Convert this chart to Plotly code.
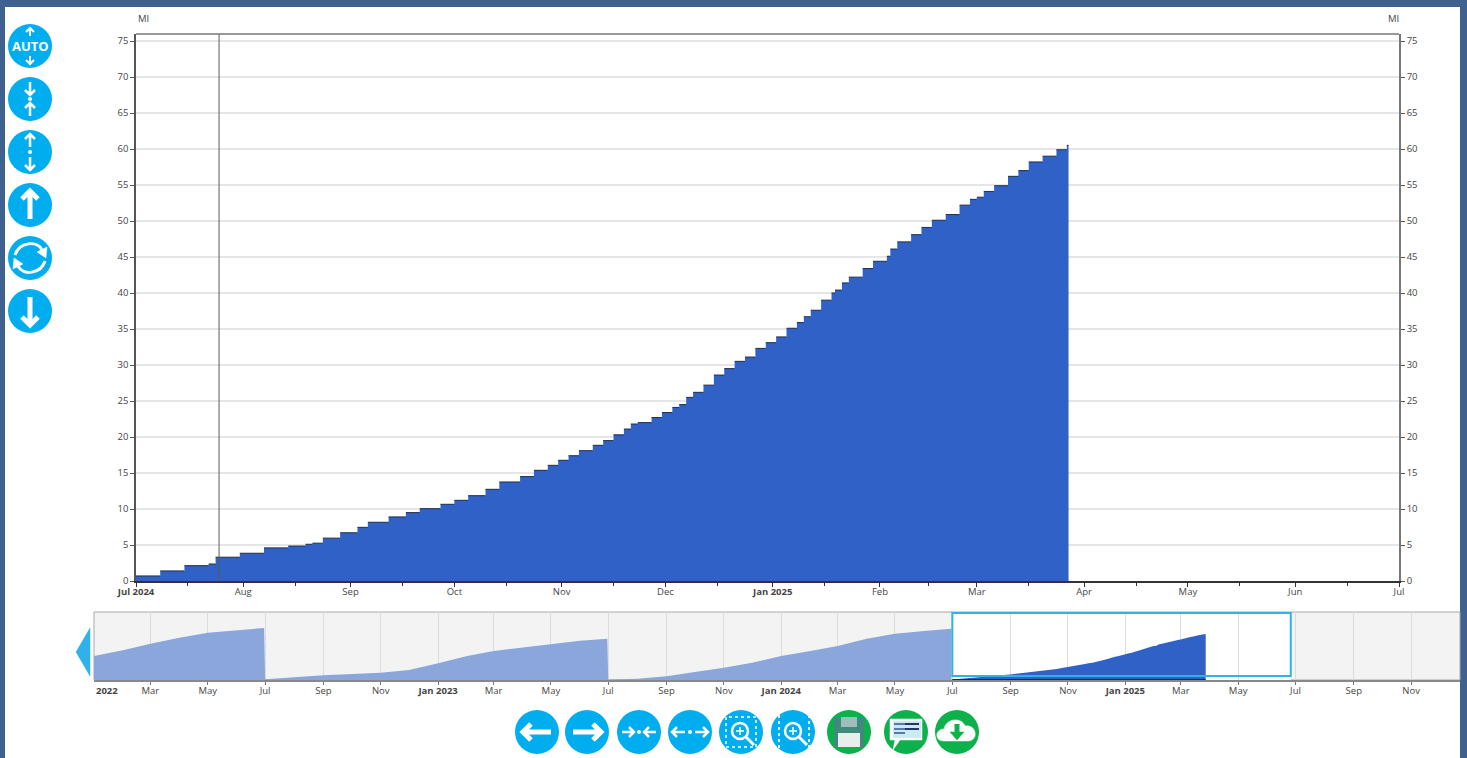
import plotly.graph_objects as go

W, H = 1467, 758

# ---- data -------------------------------------------------------------
step_dates = [
    "2024-07-01","2024-07-08","2024-07-15","2024-07-22","2024-07-24","2024-07-31",
    "2024-08-07","2024-08-14","2024-08-19","2024-08-21","2024-08-24","2024-08-29",
    "2024-09-03","2024-09-06","2024-09-12","2024-09-17","2024-09-21","2024-09-27",
    "2024-10-01","2024-10-05","2024-10-10","2024-10-14","2024-10-20","2024-10-24",
    "2024-10-28","2024-10-31","2024-11-03","2024-11-06","2024-11-10","2024-11-13",
    "2024-11-16","2024-11-19","2024-11-21","2024-11-23","2024-11-27","2024-11-30",
    "2024-12-03","2024-12-05","2024-12-07","2024-12-09","2024-12-12","2024-12-15",
    "2024-12-18","2024-12-21","2024-12-24","2024-12-27","2024-12-30","2025-01-02",
    "2025-01-05","2025-01-08","2025-01-10","2025-01-12","2025-01-15","2025-01-18",
    "2025-01-19","2025-01-21","2025-01-23","2025-01-27","2025-01-30","2025-02-03",
    "2025-02-04","2025-02-06","2025-02-10","2025-02-13","2025-02-16","2025-02-20",
    "2025-02-24","2025-02-27","2025-03-01","2025-03-03","2025-03-06","2025-03-10",
    "2025-03-13","2025-03-16","2025-03-20","2025-03-24","2025-03-27","2025-03-27 12:00",
]
step_values = [
    0.7,1.4,2.13,2.36,3.3,3.85,
    4.6,4.85,5.1,5.25,5.95,6.7,
    7.45,8.15,8.9,9.5,10.05,10.65,
    11.2,11.85,12.73,13.75,14.5,15.37,
    16.06,16.76,17.4,18.1,18.84,19.5,
    20.3,21.1,21.8,22.0,22.7,23.4,
    24.1,24.5,25.5,26.2,27.2,28.6,
    29.5,30.5,31.1,32.3,33.1,33.9,
    35.1,35.9,36.7,37.6,39.0,40.0,
    40.4,41.4,42.2,43.4,44.4,45.1,
    46.1,47.1,48.1,49.1,50.1,50.9,
    52.2,53.0,53.3,54.1,54.9,56.2,
    57.0,58.2,59.0,59.9,60.5,60.5,
]
history_dates = [
    "2021-12-31","2022-02-01","2022-03-01","2022-04-01","2022-05-01","2022-06-01","2022-06-30",
    "2022-07-01","2022-09-01","2022-11-01","2022-12-01","2023-01-01","2023-02-01","2023-03-01",
    "2023-04-01","2023-05-01","2023-06-01","2023-06-30",
    "2023-07-01","2023-08-01","2023-09-01","2023-10-01","2023-11-01","2023-12-01","2024-01-01",
    "2024-02-01","2024-03-01","2024-04-01","2024-05-01","2024-06-01","2024-06-30",
]
history_values = [
    31.6,39.5,47.8,55.7,62.3,65.8,68.4,
    1.0,6.1,9.6,13.0,21.9,31.6,38.0,
    42.5,47.8,51.8,54.4,
    0.5,1.8,4.8,10.5,16.2,22.8,31.6,
    38.0,44.7,54.4,61.0,64.5,67.5,
]
main_tick_dates = ["2024-07-01","2024-08-01","2024-09-01","2024-10-01","2024-11-01","2024-12-01",
                   "2025-01-01","2025-02-01","2025-03-01","2025-04-01","2025-05-01","2025-06-01","2025-07-01"]
main_tick_labels = ["<b>Jul 2024</b>","Aug","Sep","Oct","Nov","Dec","<b>Jan 2025</b>","Feb","Mar","Apr","May","Jun","Jul"]
main_minor_dates = ["2024-07-16","2024-08-16","2024-09-16","2024-10-16","2024-11-16","2024-12-16",
                    "2025-01-16","2025-02-15","2025-03-16","2025-04-16","2025-05-16","2025-06-16"]
y_ticks = list(range(0, 80, 5))
nav_tick_dates = ["2022-03-01","2022-05-01","2022-07-01","2022-09-01","2022-11-01","2023-01-01",
                  "2023-03-01","2023-05-01","2023-07-01","2023-09-01","2023-11-01","2024-01-01",
                  "2024-03-01","2024-05-01","2024-07-01","2024-09-01","2024-11-01","2025-01-01",
                  "2025-03-01","2025-05-01","2025-07-01","2025-09-01","2025-11-01"]
nav_tick_labels = ["Mar","May","Jul","Sep","Nov","<b>Jan 2023</b>","Mar","May","Jul","Sep","Nov","<b>Jan 2024</b>",
                   "Mar","May","Jul","Sep","Nov","<b>Jan 2025</b>","Mar","May","Jul","Sep","Nov"]
cursor_date = "2024-07-25"
window_start, window_end = "2024-07-01", "2025-06-26"

# ---- styles -----------------------------------------------------------
BG = "#3f6190"; BLUE = "#3061c6"; PALE = "#8ba6db"; CYAN = "#00aeef"; GREEN = "#0db14b"
TXT = "#454545"; FONT = "Open Sans"; WIN = "#2fb2ea"

def px(x): return x / W
def py(y): return 1 - y / H

def path_str(cx, cy, cmd):
    out, toks, i = [], cmd.split(), 0
    while i < len(toks):
        t = toks[i]
        if t.isalpha():
            out.append(t); i += 1
        else:
            out.append(f"{px(cx + float(t)):.5f},{py(cy + float(toks[i + 1])):.5f}"); i += 2
    return " ".join(out)

shapes, annos = [], []

def rect(x0, y0, x1, y1, fill=None, line=None, lw=0, layer="above", dash=None):
    shapes.append(dict(type="rect", xref="paper", yref="paper", x0=px(x0), x1=px(x1), y0=py(y1), y1=py(y0),
                       fillcolor=fill or "rgba(0,0,0,0)", layer=layer,
                       line=dict(color=line or "rgba(0,0,0,0)", width=lw, dash=dash or "solid")))

def circle(cx, cy, r, fill=None, line=None, lw=0):
    shapes.append(dict(type="circle", xref="paper", yref="paper", x0=px(cx - r), x1=px(cx + r),
                       y0=py(cy + r), y1=py(cy - r), fillcolor=fill or "rgba(0,0,0,0)",
                       line=dict(color=line or "rgba(0,0,0,0)", width=lw)))

def stroke(cx, cy, cmd, color="white", lw=2.5):
    shapes.append(dict(type="path", xref="paper", yref="paper", path=path_str(cx, cy, cmd),
                       line=dict(color=color, width=lw)))

def solid(cx, cy, cmd, color="white"):
    shapes.append(dict(type="path", xref="paper", yref="paper", path=path_str(cx, cy, cmd),
                       fillcolor=color, line=dict(color=color, width=0.5)))

def arrow_v(cx, cy, y0, y1, lw=2.5, h=5):
    s = 1 if y1 > y0 else -1
    stroke(cx, cy, f"M 0 {y0} L 0 {y1} M {-h} {y1 - s*h} L 0 {y1} L {h} {y1 - s*h}", lw=lw)

def arrow_h(cx, cy, x0, x1, lw=2.5, h=5):
    s = 1 if x1 > x0 else -1
    stroke(cx, cy, f"M {x0} 0 L {x1} 0 M {x1 - s*h} {-h} L {x1} 0 L {x1 - s*h} {h}", lw=lw)

def magnifier(cx, cy):
    circle(cx - 1, cy - 1, 8, line="white", lw=2.5)
    stroke(cx, cy, "M 5 5 L 13 13", lw=3)
    stroke(cx, cy, "M -5 -1 L 3 -1 M -1 -5 L -1 3", lw=1.5)

# page
rect(5, 7, 1460, 758, fill="white", layer="below")
rect(94, 612, 1460, 680, fill="#f3f3f3", line="#a8a8a8", lw=1, layer="below")
shapes.append(dict(type="rect", xref="x2", yref="paper", x0=window_start, x1=window_end, y0=py(680), y1=py(612),
                   fillcolor="white", line=dict(width=0), layer="below"))
shapes.append(dict(type="rect", xref="x2", yref="paper", x0=window_start, x1=window_end, y0=py(676), y1=py(613),
                   fillcolor="rgba(0,0,0,0)", line=dict(color=WIN, width=2), layer="above"))
shapes.append(dict(type="line", xref="x", yref="paper", x0=cursor_date, x1=cursor_date, y0=py(581), y1=py(34),
                   line=dict(color="#5a5a5a", width=1), layer="above"))
solid(0, 0, "M 90 628 L 76 652 L 90 676 Z", color=WIN)

# left icons
for cy in (46, 99, 152, 205, 258, 311):
    circle(30, cy, 22, fill=CYAN)
arrow_v(30, 46, -10, -18, lw=2, h=4); arrow_v(30, 46, 10, 18, lw=2, h=4)
annos.append(dict(xref="paper", yref="paper", x=px(30), y=py(46), text="<b>AUTO</b>", showarrow=False,
                  font=dict(color="white", size=13, family=FONT), xanchor="center", yanchor="middle"))
arrow_v(30, 99, -17, -4, lw=2.5, h=5); arrow_v(30, 99, 17, 4, lw=2.5, h=5); circle(30, 99, 2, fill="white")
arrow_v(30, 152, -5, -18, lw=2.5, h=5); arrow_v(30, 152, 5, 18, lw=2.5, h=5); circle(30, 152, 2, fill="white")
arrow_v(30, 205, 14, -14, lw=5, h=8)
arrow_v(30, 311, -14, 14, lw=5, h=8)
stroke(30, 258, "M -15 -3 C -11 -16 7 -18 12 -8", lw=3)
solid(30, 258, "M 7 -6 L 17 -11 L 16 0 Z")
stroke(30, 258, "M 15 3 C 11 16 -7 18 -12 8", lw=3)
solid(30, 258, "M -7 6 L -17 11 L -16 0 Z")

# bottom icons
for cx in (537, 587, 639, 690, 741, 793):
    circle(cx, 732, 22, fill=CYAN)
for cx in (849, 906, 957):
    circle(cx, 732, 22, fill=GREEN)
arrow_h(537, 732, 14, -14, lw=5, h=8)
arrow_h(587, 732, -14, 14, lw=5, h=8)
arrow_h(639, 732, -17, -5, lw=2.5, h=5); arrow_h(639, 732, 17, 5, lw=2.5, h=5); circle(639, 732, 2, fill="white")
arrow_h(690, 732, -5, -18, lw=2.5, h=5); arrow_h(690, 732, 5, 18, lw=2.5, h=5); circle(690, 732, 2, fill="white")
rect(741 - 15, 732 - 15, 741 + 15, 732 + 15, line="white", lw=1.5, dash="dot")
magnifier(741, 732)
stroke(793, 732, "M -14 -17 L -14 17 M 16 -17 L 16 17", lw=1.8)
shapes[-1]["line"]["dash"] = "dot"
magnifier(794, 732)
rect(849 - 15, 732 - 15, 849 + 15, 732 + 15, fill="#3f8a7c")
rect(849 - 8, 732 - 15, 849 + 8, 732 - 5, fill="#9dbfb8")
rect(849 - 11, 732 + 1, 849 + 11, 732 + 15, fill="#e6efec")
solid(906, 732, "M -16 -13 L 16 -13 L 16 8 L -6 8 L -13 18 L -11 8 L -16 8 Z", color="white")
rect(906 - 13, 732 - 11, 906 + 15, 732 + 6, fill="#c9ecf2")
stroke(906, 732, "M -1 -8 L 13 -8 M -1 -3 L 13 -3", color="#26346b", lw=2)
stroke(906, 732, "M -12 -3 L -1 -3 M -12 1 L -1 1 M -12 -8 L -1 -8", color="#5a78ad", lw=2)
solid(957, 732, "M -13 9 C -23 9 -22 -3 -13 -3 C -11 -14 5 -15 8 -6 C 20 -8 22 9 11 9 Z")
rect(957 - 2.5, 732 - 8, 957 + 2.5, 732 + 1, fill=GREEN)
solid(957, 732, "M -7 0 L 7 0 L 0 8 Z", color=GREEN)

# text
tickfont = dict(family=FONT, size=9.5, color=TXT)
for mx in (143, 1393):
    annos.append(dict(xref="paper", yref="paper", x=px(mx), y=py(19), text="MI", showarrow=False, font=tickfont,
                      xanchor="center", yanchor="middle"))
annos.append(dict(xref="paper", yref="paper", x=px(94), y=py(690), text="<b>2022</b>", showarrow=False,
                  xanchor="left", yanchor="middle", font=tickfont))

# ---- traces -----------------------------------------------------------
# dark top edge: only the flat parts of each step are outlined
edge_x, edge_y = [], []
for i in range(len(step_dates) - 1):
    edge_x += [step_dates[i], step_dates[i + 1], None]
    edge_y += [step_values[i], step_values[i], None]

fig = go.Figure()
fig.add_trace(go.Scatter(x=step_dates, y=step_values, mode="lines", line=dict(shape="hv", width=0),
                         fill="tozeroy", fillcolor=BLUE, xaxis="x", yaxis="y", hoverinfo="skip"))
fig.add_trace(go.Scatter(x=edge_x, y=edge_y, mode="lines", line=dict(width=1.1, color="#2a3550"),
                         connectgaps=False, xaxis="x", yaxis="y2"))
fig.add_trace(go.Scatter(x=history_dates, y=history_values, mode="lines", line=dict(width=0),
                         fill="tozeroy", fillcolor=PALE, xaxis="x2", yaxis="y3"))
fig.add_trace(go.Scatter(x=step_dates, y=step_values, mode="lines", line=dict(width=0),
                         fill="tozeroy", fillcolor=BLUE, xaxis="x2", yaxis="y3"))
fig.add_trace(go.Scatter(x=[step_dates[0], step_dates[-1]], y=[0, 0], mode="lines",
                         line=dict(color="#1d2a60", width=2), xaxis="x2", yaxis="y3"))

y_common = dict(range=[0, 547 / 7.2], tickvals=y_ticks, ticks="outside", ticklen=4, tickwidth=1, tickcolor="#555",
                tickfont=tickfont, showline=True, linewidth=1.5, zeroline=False, automargin=False)
fig.update_layout(
    width=W, height=H, margin=dict(l=0, r=0, t=0, b=0, autoexpand=False), showlegend=False,
    paper_bgcolor=BG, plot_bgcolor="rgba(0,0,0,0)", shapes=shapes, annotations=annos,
    xaxis=dict(domain=[px(136), px(1399)], range=["2024-07-01", "2025-07-01"], tickvals=main_tick_dates,
               ticktext=main_tick_labels, ticks="outside", ticklen=4, tickcolor="#333", tickfont=tickfont,
               showgrid=False, showline=True, linecolor="#333", linewidth=1.5, mirror=False, anchor="y",
               automargin=False, ticklabelstandoff=-3,
               minor=dict(tickvals=main_minor_dates, ticks="outside", ticklen=3, tickcolor="#333", showgrid=False)),
    yaxis=dict(domain=[py(581), py(34)], side="left", showgrid=True, gridcolor="#e6e6e6", gridwidth=1.5,
               linecolor="#555", anchor="x", **y_common),
    yaxis2=dict(overlaying="y", side="right", anchor="x", showgrid=False, linecolor="#777", **y_common),
    xaxis2=dict(domain=[px(94), px(1460)], range=["2021-12-31", "2025-12-23"], tickvals=nav_tick_dates,
                ticktext=nav_tick_labels, ticks="outside", ticklen=3, tickcolor="#777", tickfont=tickfont,
                showgrid=True, gridcolor="#dcdcdc", gridwidth=1, showline=True, linecolor="#888", linewidth=1.5,
                anchor="y3", automargin=False, ticklabelstandoff=-2),
    yaxis3=dict(domain=[py(680), py(612)], range=[0, 68 / 0.76], showticklabels=False, ticks="", showgrid=False,
                zeroline=False, showline=False, anchor="x2", automargin=False),
)
# top frame of the main plot
fig.add_shape(type="line", xref="paper", yref="paper", x0=px(136), x1=px(1399), y0=py(34), y1=py(34),
              line=dict(color="#777", width=1.5))

fig.write_html("out.html", config={"displayModeBar": False},
               post_script="document.body.style.margin='0';document.body.style.overflow='hidden';")
